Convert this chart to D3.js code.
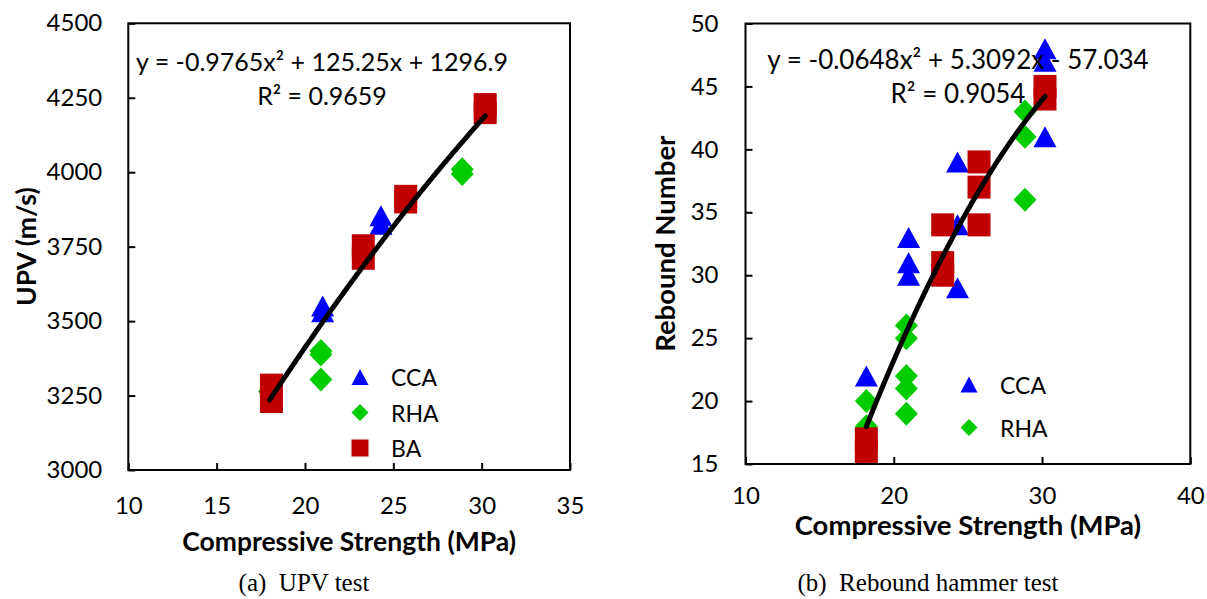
<!DOCTYPE html>
<html>
<head>
<meta charset="utf-8">
<script src="https://cdn.jsdelivr.net/npm/d3@7"></script>
<style>
  body { margin: 0; background: #fff; }
  svg { display: block; }
</style>
</head>
<body>
<div id="chart"></div>
<script>

// ---- panel (a): UPV vs compressive strength ----
const upvCcaX = [21.0, 21.0, 24.3, 24.3];
const upvCcaY = [3531, 3551, 3825, 3854];
const upvRhaX = [18.0, 20.9, 20.9, 20.9, 28.9, 28.9];
const upvRhaY = [3264, 3388, 3400, 3304, 3994, 4010];
const upvBaX  = [18.1, 18.1, 23.3, 23.3, 25.7, 25.7, 30.2, 30.2];
const upvBaY  = [3230, 3285, 3711, 3753, 3900, 3919, 4200, 4227];
const upvFit  = [-0.9765, 125.25, 1296.9];   // y = a*x^2 + b*x + c
const upvXTicks = [10, 15, 20, 25, 30, 35];
const upvYTicks = [3000, 3250, 3500, 3750, 4000, 4250, 4500];

// ---- panel (b): rebound number vs compressive strength ----
const rebCcaX = [18.15, 21.0, 21.0, 21.0, 24.3, 24.3, 24.3, 30.2, 30.2, 30.2];
const rebCcaY = [22, 33, 31, 30, 39, 34, 29, 48, 47, 41];
const rebRhaX = [18.15, 18.15, 18.15, 20.85, 20.85, 20.85, 20.85, 20.85, 28.85, 28.85, 28.85];
const rebRhaY = [20, 18, 16, 26, 25, 22, 21, 19, 43, 41, 36];
const rebBaX  = [18.15, 18.15, 23.3, 23.3, 23.3, 25.75, 25.75, 25.75, 30.2, 30.2];
const rebBaY  = [17, 16, 34, 31, 30, 39, 37, 34, 45, 44];
const rebFit  = [-0.0648, 5.3092, -57.034];
const rebXTicks = [10, 20, 30, 40];
const rebYTicks = [15, 20, 25, 30, 35, 40, 45, 50];

const colors = { CCA: "#0000FF", RHA: "#00CC00", BA: "#C00000" };

const svg = d3.select("#chart")
  .append("svg")
    .attr("width", 1207)
    .attr("height", 599)
    .style("font-family", "Lato, 'Open Sans', sans-serif");

// marker outlines centred on their bounding box
function markerPath(shape, w, h) {
  const a = w / 2, b = h / 2;
  if (shape === "triangle") return `M0,${-b}L${a},${b}L${-a},${b}Z`;
  if (shape === "diamond") return `M0,${-b}L${a},0L0,${b}L${-a},0Z`;
  return `M${-a},${-b}H${a}V${b}H${-a}Z`;
}

const markerSize = { triangle: [23, 21], diamond: [23, 24], square: [23, 23] };

function drawPanel(p) {
  const x = d3.scaleLinear().domain(p.xDomain).range([p.left, p.right]);
  const y = d3.scaleLinear().domain(p.yDomain).range([p.bottom, p.top]);
  const g = svg.append("g");

  // x axis, ticks pointing into the plot
  g.append("g")
    .attr("transform", `translate(0,${p.bottom})`)
    .call(d3.axisBottom(x).tickValues(p.xTicks).tickSize(-7).tickPadding(p.xPad).tickFormat(d3.format("d")))
    .attr("font-family", null)
    .attr("font-size", 24)
    .call(a => a.select(".domain").remove())
    .call(a => a.selectAll("line").attr("stroke-width", 2));

  // y axis
  g.append("g")
    .attr("transform", `translate(${p.left},0)`)
    .call(d3.axisLeft(y).tickValues(p.yTicks).tickSize(-7).tickPadding(p.yPad).tickFormat(d3.format("d")))
    .attr("font-family", null)
    .attr("font-size", 24)
    .call(a => a.select(".domain").remove())
    .call(a => a.selectAll("line").attr("stroke-width", 2));

  // plot frame
  g.append("rect")
    .attr("x", p.left).attr("y", p.top)
    .attr("width", p.right - p.left).attr("height", p.bottom - p.top)
    .attr("fill", "none").attr("stroke", "#000").attr("stroke-width", 2);

  // data points, series in drawing order
  p.series.forEach(s => {
    const sz = markerSize[s.shape];
    g.selectAll(null)
      .data(s.xs.map((v, i) => [v, s.ys[i]]))
      .enter()
      .append("path")
      .attr("d", markerPath(s.shape, sz[0], sz[1]))
      .attr("transform", d => `translate(${x(d[0])},${y(d[1])})`)
      .attr("fill", colors[s.name]);
  });

  // polynomial trendline over the range of the data
  const allX = p.series.flatMap(s => s.xs);
  const ext = d3.extent(allX);
  const fx = v => p.fit[0] * v * v + p.fit[1] * v + p.fit[2];
  const pts = d3.range(ext[0], ext[1], 0.05).concat([ext[1]]);
  g.append("path")
    .datum(pts)
    .attr("d", d3.line().x(v => x(v)).y(v => y(fx(v))))
    .attr("fill", "none")
    .attr("stroke", "#000")
    .attr("stroke-width", 5)
    .attr("stroke-linecap", "round");

  // trendline equation
  g.append("text")
    .attr("x", p.eqX).attr("y", p.eqY)
    .attr("text-anchor", "middle")
    .attr("font-size", p.eqSize)
    .text(p.eqText);
  g.append("text")
    .attr("x", p.eqX).attr("y", p.eqY + 34)
    .attr("text-anchor", "middle")
    .attr("font-size", p.eqSize)
    .text(p.r2Text);

  // legend
  p.series.filter(s => s.legend).forEach((s, i) => {
    const ly = p.legY + i * p.legStep;
    g.append("path")
      .attr("d", markerPath(s.shape, 17, s.shape === "triangle" ? 16 : 17))
      .attr("transform", `translate(${p.legX},${ly})`)
      .attr("fill", colors[s.name]);
    g.append("text")
      .attr("x", p.legX + 31).attr("y", ly)
      .attr("dominant-baseline", "central")
      .attr("font-size", 23)
      .text(s.name);
  });

  // axis titles
  g.append("text")
    .attr("x", (p.left + p.right) / 2).attr("y", p.xTitleY)
    .attr("text-anchor", "middle")
    .attr("font-size", p.titleSize)
    .attr("font-weight", "bold")
    .text("Compressive Strength (MPa)");
  g.append("text")
    .attr("transform", `translate(${p.yTitleX},${(p.top + p.bottom) / 2}) rotate(-90)`)
    .attr("text-anchor", "middle")
    .attr("dominant-baseline", "central")
    .attr("font-size", p.titleSize)
    .attr("font-weight", "bold")
    .text(p.yTitle);

  // caption under the panel
  g.append("text")
    .attr("x", p.capX).attr("y", 591)
    .attr("text-anchor", "middle")
    .attr("font-family", "'Liberation Serif', 'Times New Roman', serif")
    .attr("font-size", 25)
    .attr("xml:space", "preserve")
    .text(p.caption);
}

drawPanel({
  xDomain: [10, 35], yDomain: [3000, 4500],
  left: 128.3, right: 570, top: 23.3, bottom: 470,
  xTicks: upvXTicks, yTicks: upvYTicks, xPad: 27, yPad: 26,
  series: [
    { name: "CCA", shape: "triangle", xs: upvCcaX, ys: upvCcaY, legend: true },
    { name: "RHA", shape: "diamond", xs: upvRhaX, ys: upvRhaY, legend: true },
    { name: "BA", shape: "square", xs: upvBaX, ys: upvBaY, legend: true }
  ],
  fit: upvFit,
  eqText: "y = -0.9765x\u00B2 + 125.25x + 1296.9",
  r2Text: "R\u00B2 = 0.9659",
  eqX: 322, eqY: 71, eqSize: 25,
  legX: 360, legY: 377, legStep: 35.5,
  titleSize: 26.5,
  xTitleY: 551, yTitleX: 26, yTitle: "UPV (m/s)",
  capX: 304, caption: "(a)  UPV test"
});

drawPanel({
  xDomain: [10, 40], yDomain: [15, 50],
  left: 745.5, right: 1190.3, top: 23.5, bottom: 464,
  xTicks: rebXTicks, yTicks: rebYTicks, xPad: 23, yPad: 27,
  series: [
    { name: "CCA", shape: "triangle", xs: rebCcaX, ys: rebCcaY, legend: true },
    { name: "RHA", shape: "diamond", xs: rebRhaX, ys: rebRhaY, legend: true },
    { name: "BA", shape: "square", xs: rebBaX, ys: rebBaY, legend: false }
  ],
  fit: rebFit,
  eqText: "y = -0.0648x\u00B2 + 5.3092x - 57.034",
  r2Text: "R\u00B2 = 0.9054",
  eqX: 958, eqY: 69, eqSize: 26,
  legX: 969, legY: 384.5, legStep: 43,
  titleSize: 27.5,
  xTitleY: 535, yTitleX: 664, yTitle: "Rebound Number",
  capX: 928, caption: "(b)  Rebound hammer test"
});

</script>
</body>
</html>
